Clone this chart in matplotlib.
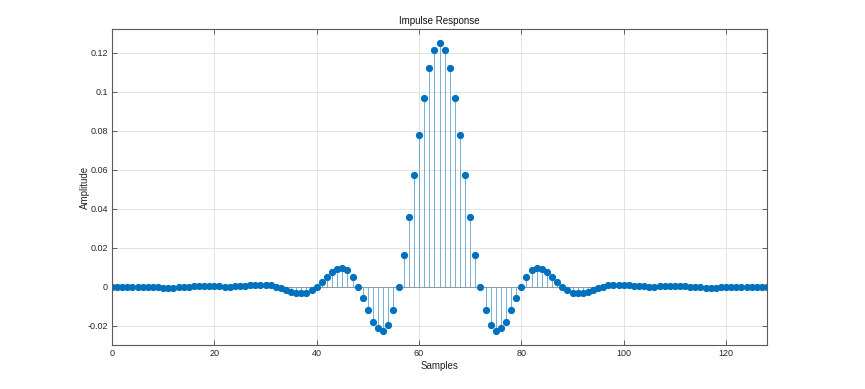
import numpy as np
import matplotlib
matplotlib.use("Agg")
import matplotlib.pyplot as plt

plt.rcParams['font.family'] = ['Liberation Sans', 'DejaVu Sans']

samples = list(range(129))
amplitude = [
    0.0000, 0.0000, 0.0000, 0.0000, 0.0000, -0.0001, -0.0001, -0.0002,
    -0.0003, -0.0004, -0.0005, -0.0005, -0.0005, -0.0004, -0.0003, -0.0001,
    0.0001, 0.0002, 0.0003, 0.0003, 0.0002, 0.0001, 0.0000, 0.0000,
    0.0001, 0.0003, 0.0005, 0.0007, 0.0009, 0.0010, 0.0009, 0.0006,
    0.0000, -0.0008, -0.0016, -0.0026, -0.0032, -0.0035, -0.0032, -0.0020,
    0.0000, 0.0025, 0.0050, 0.0073, 0.0091, 0.0095, 0.0083, 0.0050,
    0.0000, -0.0060, -0.0122, -0.0180, -0.0215, -0.0228, -0.0195, -0.0122,
    0.0000, 0.0162, 0.0359, 0.0571, 0.0780, 0.0969, 0.1121, 0.1217,
    0.1251,
    0.1217, 0.1121, 0.0969, 0.0780, 0.0571, 0.0359, 0.0162, 0.0000,
    -0.0122, -0.0195, -0.0228, -0.0215, -0.0180, -0.0122, -0.0060, 0.0000,
    0.0050, 0.0083, 0.0095, 0.0091, 0.0073, 0.0050, 0.0025, 0.0000,
    -0.0020, -0.0032, -0.0035, -0.0032, -0.0026, -0.0016, -0.0008, 0.0000,
    0.0006, 0.0009, 0.0010, 0.0009, 0.0007, 0.0005, 0.0003, 0.0001,
    0.0000, 0.0000, 0.0001, 0.0002, 0.0003, 0.0003, 0.0002, 0.0001,
    -0.0001, -0.0003, -0.0004, -0.0005, -0.0005, -0.0005, -0.0004, -0.0003,
    -0.0002, -0.0001, -0.0001, 0.0000, 0.0000, 0.0000, 0.0000, 0.0000,
]
xticks = [0, 20, 40, 60, 80, 100, 120]
yticks = [-0.02, 0, 0.02, 0.04, 0.06, 0.08, 0.1, 0.12]
ytick_labels = ['-0.02', '0', '0.02', '0.04', '0.06', '0.08', '0.1', '0.12']

fig = plt.figure(figsize=(8.65, 3.89), dpi=100)
ax = fig.add_axes([0.1295, 0.1131, 0.7572, 0.8111])

color = '#0072BD'
markerline, stemlines, baseline = ax.stem(samples, amplitude, basefmt=' ')
plt.setp(stemlines, color='#3f8fc4', linewidth=0.5)
plt.setp(markerline, color=color, marker='o', markersize=4.2,
         markerfacecolor=color, markeredgecolor=color)
ax.axhline(0, color='#8c8c8c', linewidth=0.6, zorder=1)

ax.set_xlim(0, 128)
ax.set_ylim(-0.03, 0.132)
ax.set_xticks(xticks)
ax.set_yticks(yticks)
ax.set_yticklabels(ytick_labels)

ax.grid(True, color='#e3e3e3', linewidth=0.7)
ax.set_axisbelow(True)
for s in ax.spines.values():
    s.set_color('#5a5a5a')
    s.set_linewidth(0.8)
ax.tick_params(direction='in', length=3.5, width=0.7, colors='#5a5a5a',
               labelcolor='#262626', labelsize=6.5, top=True, right=True,
               pad=3)

ax.set_title('Impulse Response', fontsize=7, color='#111111', pad=4)
ax.set_xlabel('Samples', fontsize=7, color='#262626', labelpad=2)
ax.set_ylabel('Amplitude', fontsize=7, color='#262626', labelpad=1)
ax.yaxis.set_label_coords(-0.034, 0.5)

fig.savefig('out.png', dpi=100, facecolor='white')
